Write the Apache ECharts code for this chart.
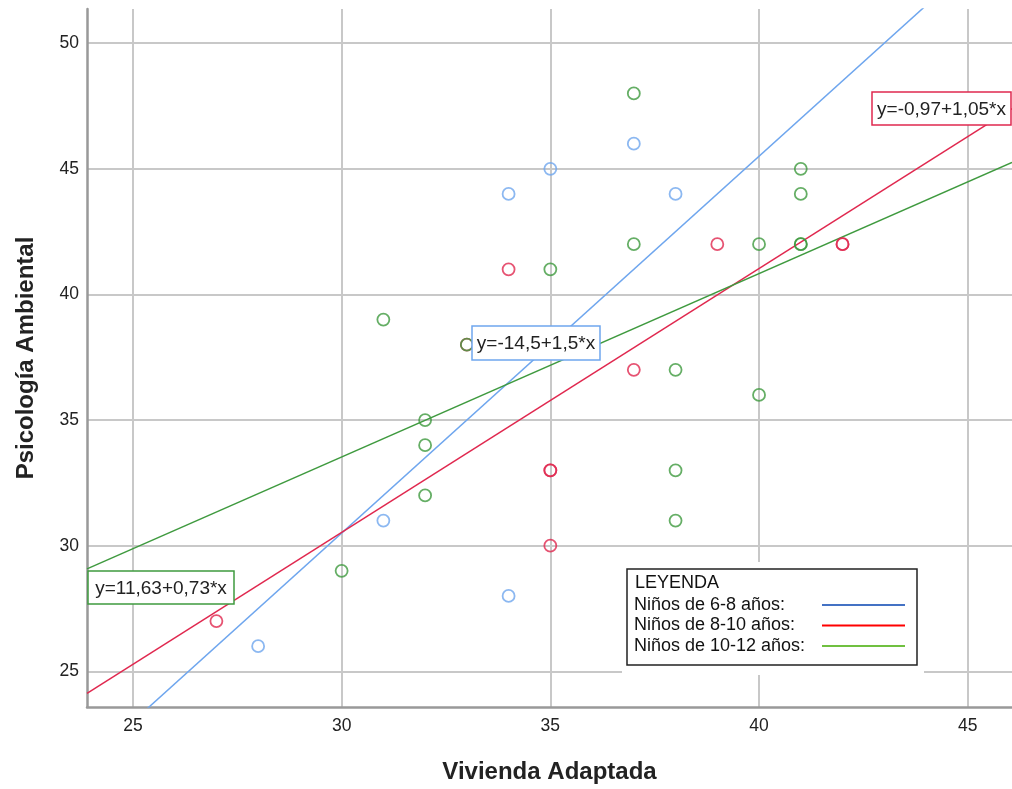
<!DOCTYPE html>
<html>
<head>
<meta charset="utf-8">
<title>Psicología Ambiental vs Vivienda Adaptada</title>
<script src="https://cdn.jsdelivr.net/npm/echarts@6/dist/echarts.min.js"></script>
<style>
  html, body { margin: 0; padding: 0; background: #fff; }
  #demo { width: 1012px; height: 789px; }
</style>
</head>
<body>
<div id="demo"></div>
<script>
// grupos de edad
var grupos = ['Niños de 6-8 años:', 'Niños de 8-10 años:', 'Niños de 10-12 años:'];

// puntos (x = Vivienda Adaptada, y = Psicologia Ambiental)
var azulX = [28, 31, 34, 34, 35, 37, 38];
var azulY = [26, 31, 28, 44, 45, 46, 44];
var rojoX = [27, 33, 34, 35, 35, 35, 37, 39, 42, 42];
var rojoY = [27, 38, 41, 33, 33, 30, 37, 42, 42, 42];
var verdeX = [30, 31, 32, 32, 32, 33, 35, 37, 37, 38, 38, 38, 40, 40, 41, 41, 41, 41];
var verdeY = [29, 39, 35, 34, 32, 38, 41, 48, 42, 37, 33, 31, 42, 36, 45, 44, 42, 42];

// rectas de regresion y = a + b*x
var intercepto = [-14.5, -0.97, 11.63];
var pendiente = [1.5, 1.05, 0.73];
var ecuaciones = ['y=-14,5+1,5*x', 'y=-0,97+1,05*x', 'y=11,63+0,73*x'];

// ticks
var ticksX = [25, 30, 35, 40, 45];
var ticksY = [25, 30, 35, 40, 45, 50];

var xMin = 23.9, xMax = 46.06;
var yMin = 23.58, yMax = 51.36;

var colores = ['#6fa6ee', '#e0284f', '#3f9a3f'];
var coloresLeyenda = ['#4472c4', '#ff0000', '#70c040'];
var fuente = '"Liberation Sans", Arial, sans-serif';

function pares(xs, ys) {
    var out = [];
    for (var i = 0; i < xs.length; i++) {
        out.push([xs[i], ys[i]]);
    }
    return out;
}

function recta(i) {
    return [
        [xMin, intercepto[i] + pendiente[i] * xMin],
        [xMax, intercepto[i] + pendiente[i] * xMax]
    ];
}

var puntos = [pares(azulX, azulY), pares(rojoX, rojoY), pares(verdeX, verdeY)];

var series = [];
for (var i = 0; i < 3; i++) {
    series.push({
        name: grupos[i],
        type: 'line',
        data: recta(i),
        symbol: 'none',
        silent: true,
        clip: true,
        z: 2,
        lineStyle: { color: colores[i], width: 1.5 }
    });
}
for (var j = 0; j < 3; j++) {
    series.push({
        name: 'puntos ' + grupos[j],
        type: 'scatter',
        data: puntos[j],
        symbol: 'circle',
        symbolSize: 12,
        z: 3,
        itemStyle: { color: 'transparent', borderColor: colores[j], borderWidth: 1.8 }
    });
}

// cajas con las ecuaciones (posicion en pixeles)
var cajas = [
    { x: 472, y: 326, w: 128, h: 34 },
    { x: 872, y: 92, w: 139, h: 33 },
    { x: 88, y: 571, w: 146, h: 33 }
];

var elementos = [
    {
        type: 'rect', z: 1,
        shape: { x: 622, y: 562, width: 302, height: 113 },
        style: { fill: '#fff' }
    },
    {
        type: 'text', z: 10,
        x: 635, y: 583,
        style: { text: 'LEYENDA', font: '18px ' + fuente, fill: '#111', verticalAlign: 'middle' }
    }
];
for (var k = 0; k < 3; k++) {
    var c = cajas[k];
    elementos.push({
        type: 'rect', z: 10,
        shape: { x: c.x, y: c.y, width: c.w, height: c.h },
        style: { fill: '#fff', stroke: colores[k], lineWidth: 1.5 }
    });
    elementos.push({
        type: 'text', z: 11,
        x: c.x + c.w / 2, y: c.y + c.h / 2 + 1,
        style: {
            text: ecuaciones[k], font: '19px ' + fuente, fill: '#222',
            align: 'center', verticalAlign: 'middle'
        }
    });
}

var mychar = echarts.init(document.getElementById('demo'));
mychar.setOption({
    animation: false,
    backgroundColor: '#fff',
    grid: { left: 87, top: 9, right: 0, bottom: 80 },
    xAxis: {
        type: 'value',
        min: xMin,
        max: xMax,
        splitNumber: 5,
        name: 'Vivienda Adaptada',
        nameLocation: 'middle',
        nameGap: 53,
        nameTextStyle: { fontSize: 24, fontWeight: 'bold', color: '#222', fontFamily: fuente },
        axisLine: { lineStyle: { color: '#999', width: 2.5 } },
        axisTick: { show: false },
        axisLabel: {
            fontSize: 17.5, color: '#222', fontFamily: fuente, margin: 10,
            showMinLabel: false, showMaxLabel: false,
            formatter: function (v) { return ticksX.indexOf(v) >= 0 ? String(v) : ''; }
        },
        splitLine: { show: true, showMinLine: false, showMaxLine: false, lineStyle: { color: '#c8c8c8', width: 2 } }
    },
    yAxis: {
        type: 'value',
        min: yMin,
        max: yMax,
        splitNumber: 5,
        name: 'Psicología Ambiental',
        nameLocation: 'middle',
        nameGap: 49,
        nameTextStyle: { fontSize: 24, fontWeight: 'bold', color: '#222', fontFamily: fuente },
        axisLine: { show: true, lineStyle: { color: '#999', width: 2.5 } },
        axisTick: { show: false },
        axisLabel: {
            fontSize: 17.5, color: '#222', fontFamily: fuente, margin: 8,
            showMinLabel: false, showMaxLabel: false,
            formatter: function (v) { return ticksY.indexOf(v) >= 0 ? String(v) : ''; }
        },
        splitLine: { show: true, showMinLine: false, showMaxLine: false, lineStyle: { color: '#c8c8c8', width: 2 } }
    },
    legend: {
        orient: 'vertical',
        left: 627,
        top: 569,
        align: 'right',
        itemWidth: 83,
        itemHeight: 2,
        itemGap: 0.5,
        padding: [26, 12, 9, 7],
        backgroundColor: '#fff',
        borderColor: '#222',
        borderWidth: 1.5,
        selectedMode: false,
        z: 4,
        formatter: function (name) { return '{t|' + name + '}'; },
        textStyle: {
            fontSize: 18, color: '#111', fontFamily: fuente, lineHeight: 20,
            rich: { t: { width: 183, align: 'left', fontSize: 18, color: '#111', fontFamily: fuente, lineHeight: 20 } }
        },
        data: grupos.map(function (g, i) {
            return { name: g, icon: 'rect', itemStyle: { color: coloresLeyenda[i] }, lineStyle: { color: coloresLeyenda[i] } };
        })
    },
    graphic: { elements: elementos },
    series: series
});
</script>
</body>
</html>
